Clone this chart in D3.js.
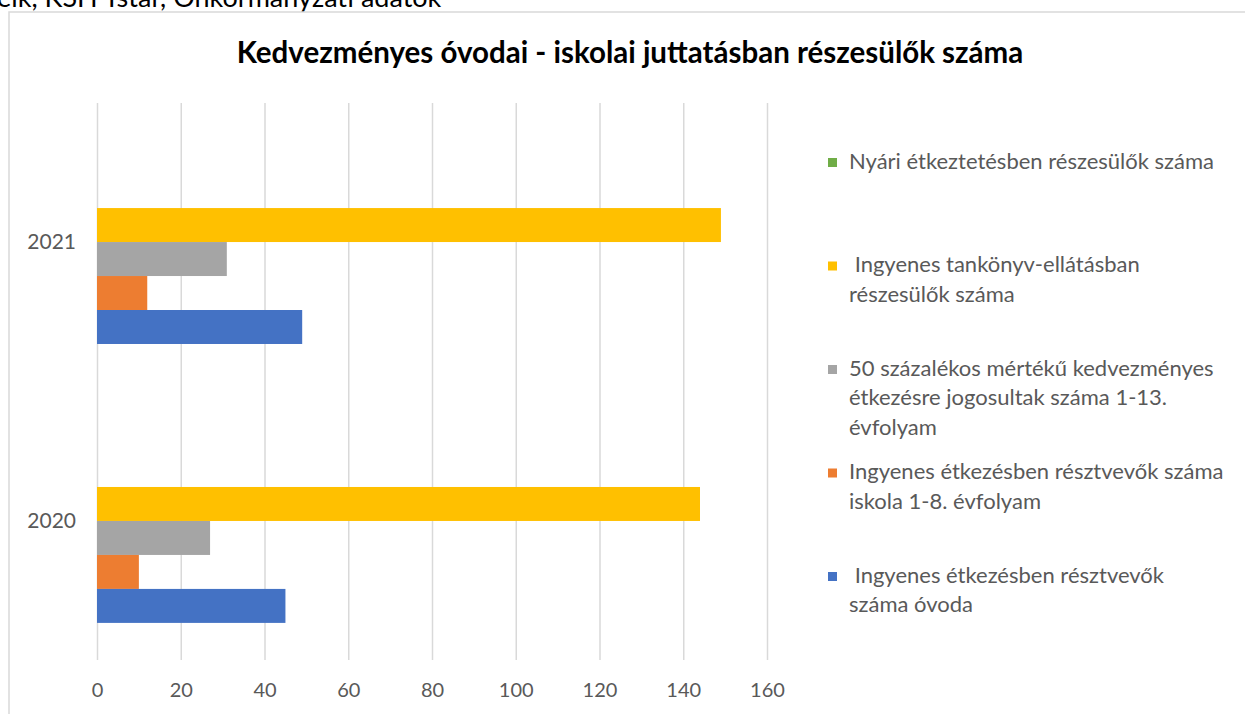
<!DOCTYPE html>
<html>
<head>
<meta charset="utf-8">
<script src="https://d3js.org/d3.v7.min.js"></script>
<style>
  body { margin: 0; background: #fff; }
  text { font-family: Lato, "Open Sans", sans-serif; }
</style>
</head>
<body>
<div id="my_dataviz"></div>
<script>

// data
var categories = ["2021", "2020"];
var seriesNames = ["Nyári étkeztetésben részesülők száma",
                   "Ingyenes tankönyv-ellátásban részesülők száma",
                   "50 százalékos mértékű kedvezményes étkezésre jogosultak száma 1-13. évfolyam",
                   "Ingyenes étkezésben résztvevők száma iskola 1-8. évfolyam",
                   "Ingyenes étkezésben résztvevők száma óvoda"];
var legendLines = [["Nyári étkeztetésben részesülők száma"],
                   [" Ingyenes tankönyv-ellátásban", "részesülők száma"],
                   ["50 százalékos mértékű kedvezményes", "étkezésre jogosultak száma 1-13.", "évfolyam"],
                   ["Ingyenes étkezésben résztvevők száma", "iskola 1-8. évfolyam"],
                   [" Ingyenes étkezésben résztvevők", "száma óvoda"]];
var nyari     = [null, null];   // 2021, 2020
var tankonyv  = [149, 144];
var szazalek  = [31, 27];
var iskola    = [12, 10];
var ovoda     = [49, 45];
var colors = ["#70AD47", "#FFC000", "#A5A5A5", "#ED7D31", "#4472C4"];
var xTicks = [0, 20, 40, 60, 80, 100, 120, 140, 160];

var values = [nyari, tankonyv, szazalek, iskola, ovoda];

var W = 1245, H = 714;
var svg = d3.select("#my_dataviz").append("svg")
    .attr("width", W).attr("height", H);

// source line cut off at top
svg.append("text").attr("x", -3).attr("y", 7)
  .style("font-size", "27px").style("fill", "#000")
  .text("eik, KSH Tstar, Önkormányzati adatok");

// chart frame
svg.append("rect").attr("x", 9).attr("y", 12).attr("width", W).attr("height", H)
  .style("fill", "#fff").style("stroke", "#d9d9d9").style("stroke-width", 1.5);

// title
svg.append("text").attr("x", 630).attr("y", 63).attr("text-anchor", "middle")
  .style("font-size", "29.5px").style("font-weight", "bold").style("fill", "#000")
  .text("Kedvezményes óvodai - iskolai juttatásban részesülők száma");

var x = d3.scaleLinear().domain([0, 160]).range([97, 767]);
var y = d3.scaleBand().domain(categories).range([103, 660])
  .paddingInner(0.269).paddingOuter(0.133);
var ySub = d3.scaleBand().domain(seriesNames).range([0, y.bandwidth()])
  .paddingInner(0).paddingOuter(0.5).align(1);

// gridlines + tick labels
var xAxis = svg.append("g").attr("transform", "translate(0,660)")
  .call(d3.axisBottom(x).tickValues(xTicks).tickSize(-557).tickPadding(23));
xAxis.select(".domain").remove();
xAxis.selectAll(".tick line").style("stroke", "#d9d9d9").style("stroke-width", 1.5);
xAxis.selectAll(".tick text").style("font-size", "20px").style("fill", "#595959")
  .style("font-family", "Lato, sans-serif");

// category labels
var yAxis = svg.append("g").attr("transform", "translate(80,0)")
  .call(d3.axisLeft(y).tickSize(0).tickPadding(4));
yAxis.select(".domain").remove();
yAxis.selectAll(".tick text").style("font-size", "21px").style("fill", "#595959")
  .style("font-family", "Lato, sans-serif");

// bars
seriesNames.forEach(function(name, si) {
  svg.append("g").selectAll("rect")
    .data(categories.map(function(c, ci) { return {cat: c, v: values[si][ci]}; })
      .filter(function(d) { return d.v != null; }))
    .enter().append("rect")
      .attr("x", x(0))
      .attr("y", function(d) { return y(d.cat) + ySub(name); })
      .attr("width", function(d) { return x(d.v) - x(0); })
      .attr("height", ySub.bandwidth())
      .style("fill", colors[si]);
});

// legend
var legY = d3.scalePoint().domain(seriesNames).range([163, 577]);
var lineH = 29.5;
seriesNames.forEach(function(name, si) {
  var g = svg.append("g").attr("transform", "translate(0," + legY(name) + ")");
  g.append("rect").attr("x", 828).attr("y", -5).attr("width", 9).attr("height", 9)
    .style("fill", colors[si]);
  legendLines[si].forEach(function(line, li) {
    g.append("text").attr("x", 849).attr("y", li * lineH)
      .attr("dominant-baseline", "middle")
      .style("font-size", "22px").style("fill", "#595959")
      .style("white-space", "pre").attr("xml:space", "preserve")
      .text(line);
  });
});

</script>
</body>
</html>
